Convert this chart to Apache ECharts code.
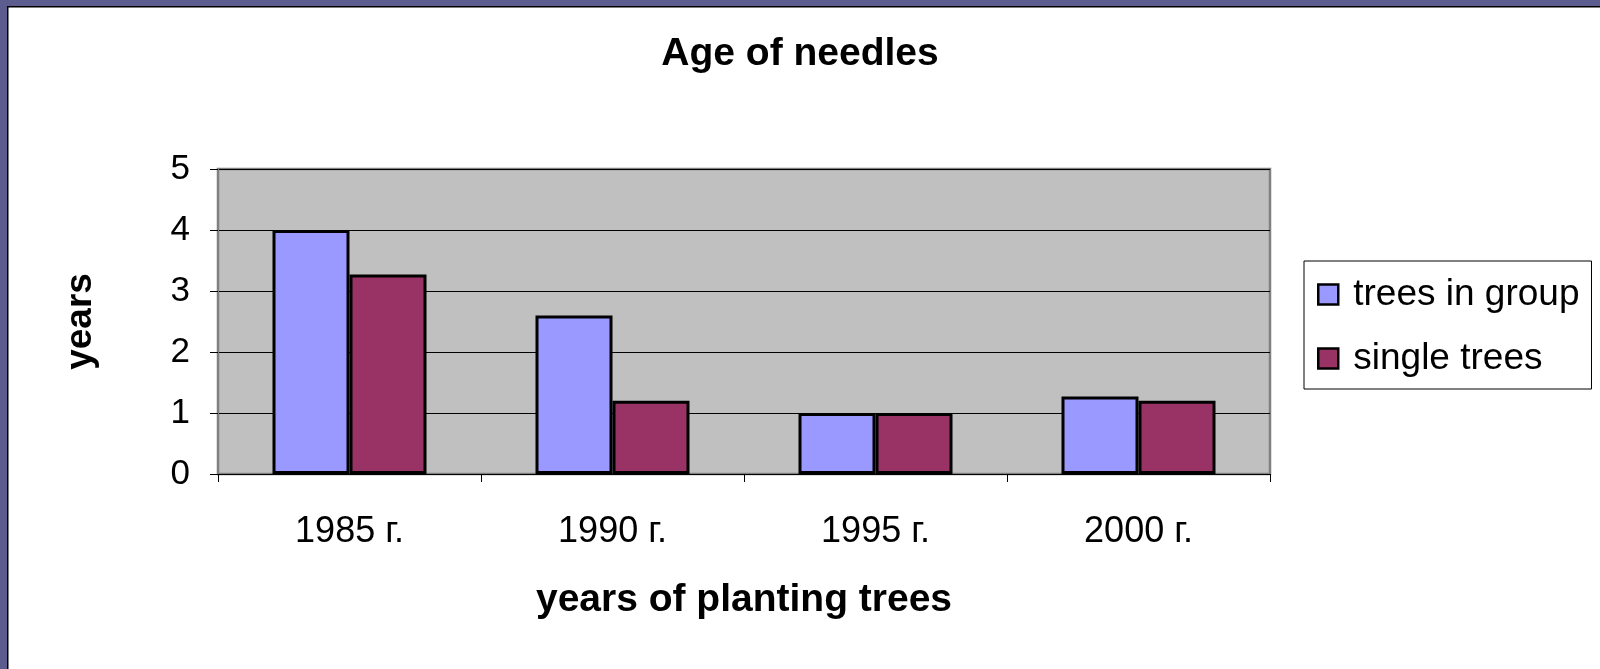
<!DOCTYPE html>
<html>
<head>
<meta charset="utf-8">
<script src="https://cdn.jsdelivr.net/npm/echarts@6/dist/echarts.min.js"></script>
<style>
  html, body { margin: 0; padding: 0; background: #fff; }
  #chart { width: 1600px; height: 669px; }
</style>
</head>
<body>
<div id="chart"></div>
<script>
const categories = ['1985 г.', '1990 г.', '1995 г.', '2000 г.']
const treesInGroup = [4, 2.6, 1, 1.27]
const singleTrees = [3.27, 1.2, 1, 1.2]
const seriesNames = ['trees in group', 'single trees']

const font = '"Liberation Sans", Arial, sans-serif'

const chart = echarts.init(document.getElementById('chart'))
const option = {
  backgroundColor: '#fff',
  animation: false,
  title: {
    text: 'Age of needles',
    left: 'center',
    top: 35,
    padding: 0,
    textStyle: { fontFamily: font, fontSize: 39, fontWeight: 'bold', color: '#000' },
  },
  graphic: [
    { type: 'rect', shape: { x: 0, y: 0, width: 1600, height: 6 }, style: { fill: '#5c5c8f' } },
    { type: 'rect', shape: { x: 0, y: 0, width: 7, height: 669 }, style: { fill: '#5c5c8f' } },
    { type: 'rect', shape: { x: 7, y: 6, width: 1593, height: 1.5 }, style: { fill: '#000' } },
    { type: 'rect', shape: { x: 7, y: 6, width: 1.5, height: 663 }, style: { fill: '#000' } },
  ],
  legend: {
    orient: 'vertical',
    left: 1304,
    top: 261,
    padding: [15, 12, 12, 13],
    itemGap: 27,
    itemWidth: 20,
    itemHeight: 20,
    backgroundColor: '#fff',
    borderColor: '#000',
    borderWidth: 1,
    borderRadius: 0,
    icon: 'rect',
    itemStyle: { borderColor: '#000', borderWidth: 2.5 },
    textStyle: { fontFamily: font, fontSize: 37, color: '#000', padding: [0, 0, 0, 10] },
    data: seriesNames,
  },
  grid: {
    left: 218,
    top: 169,
    width: 1052,
    height: 305,
    show: true,
    backgroundColor: '#c0c0c0',
    borderColor: '#808080',
    borderWidth: 2.5,
  },
  xAxis: {
    type: 'category',
    data: categories,
    name: 'years of planting trees',
    nameLocation: 'middle',
    nameGap: 107,
    nameTextStyle: { fontFamily: font, fontSize: 39, fontWeight: 'bold', color: '#000' },
    axisLine: { lineStyle: { color: '#000', width: 1 } },
    axisTick: { show: true, length: 8, lineStyle: { color: '#000' } },
    axisLabel: { fontFamily: font, fontSize: 36, color: '#000', margin: 40 },
  },
  yAxis: {
    type: 'value',
    min: 0,
    max: 5,
    interval: 1,
    name: 'years',
    nameLocation: 'middle',
    nameGap: 119,
    nameTextStyle: { fontFamily: font, fontSize: 37, fontWeight: 'bold', color: '#000' },
    axisLine: { show: true, lineStyle: { color: '#808080', width: 2 } },
    axisTick: { show: true, length: 8, lineStyle: { color: '#000' } },
    axisLabel: { fontFamily: font, fontSize: 35, color: '#000', margin: 28 },
    splitLine: { lineStyle: { color: '#000', width: 1 } },
  },
  series: [
    {
      name: seriesNames[0],
      type: 'bar',
      data: treesInGroup,
      barWidth: 77,
      barGap: '0%',
      itemStyle: { color: '#9999ff', borderColor: '#000', borderWidth: 3 },
    },
    {
      name: seriesNames[1],
      type: 'bar',
      data: singleTrees,
      barWidth: 77,
      barGap: '0%',
      itemStyle: { color: '#993366', borderColor: '#000', borderWidth: 3 },
    },
  ],
}
option && chart.setOption(option)
</script>
</body>
</html>
